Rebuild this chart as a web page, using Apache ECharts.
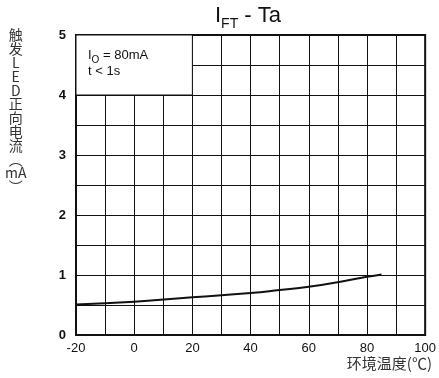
<!DOCTYPE html>
<html><head><meta charset="utf-8">
<script src="https://cdn.jsdelivr.net/npm/echarts@6/dist/echarts.min.js"></script>
<style>html,body{margin:0;padding:0;background:#fff}#c{width:439px;height:378px}</style>
</head><body><div id="c"></div>
<script>
var tempC = [-20, 0, 20, 40, 50, 60, 70, 80, 85];
var iftMA = [0.51, 0.555, 0.63, 0.70, 0.75, 0.805, 0.88, 0.97, 1.01];
var xTickLabels = ['-20', '0', '20', '40', '60', '80', '100'];
var yTickLabels = ['0', '1', '2', '3', '4', '5'];
var yNameChars = ['触','发','L','E','D','正','向','电','流','︵','mA','︶'];

var chart = echarts.init(document.getElementById('c'));
var F = 'Liberation Sans, Arial, sans-serif';
chart.setOption({
  animation: false,
  grid: {left: 76, right: 12, top: 35, bottom: 43, show: true, borderColor: '#111', borderWidth: 2, backgroundColor: 'transparent'},
  xAxis: {
    type: 'value', min: -20, max: 100, interval: 10,
    axisLine: {show: true, onZero: false, lineStyle: {color: '#111', width: 2}},
    axisTick: {show: false},
    splitLine: {show: true, lineStyle: {color: '#111', width: 1}},
    axisLabel: {
      color: '#111', fontFamily: F, fontSize: 13, margin: 7,
      formatter: function (v) { var s = String(v); return xTickLabels.indexOf(s) >= 0 ? s : ''; }
    }
  },
  yAxis: {
    type: 'value', min: 0, max: 5, interval: 0.5,
    axisLine: {show: true, onZero: false, lineStyle: {color: '#111', width: 2}},
    axisTick: {show: false},
    splitLine: {show: true, lineStyle: {color: '#111', width: 1}},
    axisLabel: {
      color: '#111', fontFamily: F, fontSize: 13, fontWeight: 'bold', margin: 10,
      formatter: function (v) { var s = String(v); return yTickLabels.indexOf(s) >= 0 ? s : ''; }
    }
  },
  series: [{
    type: 'line', smooth: true, symbol: 'none',
    data: tempC.map(function (t, i) { return [t, iftMA[i]]; }),
    lineStyle: {color: '#111', width: 2},
    markArea: {
      silent: true,
      itemStyle: {color: '#fff', borderColor: '#111', borderWidth: 1},
      data: [[{xAxis: -20, yAxis: 4}, {xAxis: 20, yAxis: 5}]]
    }
  }],
  graphic: [
    {type: 'text', left: 215, top: 5, z: 10, style: {
      text: '{a|I}{b|FT}{a| - Ta}', fill: '#111',
      rich: {a: {fontSize: 22, fontFamily: F, verticalAlign: 'bottom', lineHeight: 26},
             b: {fontSize: 14, fontFamily: F, verticalAlign: 'bottom', lineHeight: 26, padding: [0,0,-4,0]}}
    }},
    {type: 'text', left: 88, top: 49, z: 10, style: {
      text: '{a|I}{b|O}{a| = 80mA}\n{a|t < 1s}', fill: '#111',
      rich: {a: {fontSize: 13, fontFamily: F, lineHeight: 16, verticalAlign: 'bottom'},
             b: {fontSize: 10, fontFamily: F, lineHeight: 16, verticalAlign: 'bottom', padding: [0,0,-3,0]}}
    }},
    {type: 'text', left: 5, top: 28, z: 10, style: {
      text: yNameChars.join('\n'), textAlign: 'center', fill: '#333',
      fontSize: 14, lineHeight: 13.8, fontFamily: 'Noto Sans CJK SC, sans-serif'
    }},
    {type: 'text', right: 7, top: 356, z: 10, style: {
      text: '环境温度(℃)', fill: '#333', fontSize: 15, fontFamily: 'Noto Sans CJK SC, sans-serif'
    }}
  ]
});
</script></body></html>
